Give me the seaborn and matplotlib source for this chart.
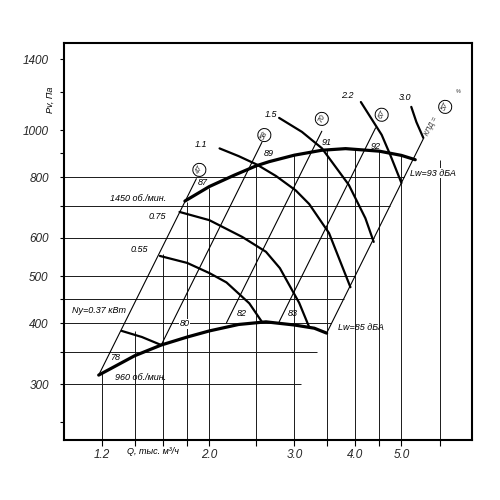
import matplotlib
matplotlib.use("Agg")
import matplotlib.pyplot as plt
import seaborn as sns
import pandas as pd
from matplotlib.ticker import FixedLocator, FixedFormatter, NullFormatter

# performance curves (Q in thousand m3/h, Pv in Pa)
q_1450 = [1.78, 2.0, 2.25, 2.5, 2.66, 3.0, 3.42, 3.83, 4.5, 5.0, 5.34]
p_1450 = [715, 766, 808, 845, 862, 889, 910, 917, 906, 888, 870]
q_960 = [1.18, 1.4, 1.59, 1.8, 2.0, 2.3, 2.62, 3.0, 3.3, 3.5]
p_960 = [313, 343, 361, 375, 386, 398, 403, 397, 391, 382]

# motor power curves, kW
power_labels = ["0.37", "0.55", "0.75", "1.1", "1.5", "2.2", "3.0"]
power_q = [[1.317, 1.45, 1.59],
           [1.58, 1.8, 2.0, 2.17, 2.42, 2.57],
           [1.735, 2.0, 2.34, 2.62, 2.8, 3.07, 3.22],
           [2.10, 2.30, 2.51, 2.75, 3.02, 3.22, 3.54, 3.92],
           [2.79, 3.11, 3.42, 3.89, 4.21, 4.38],
           [4.12, 4.55, 4.74, 5.0],
           [5.24, 5.37, 5.55]]
power_p = [[386, 375, 361],
           [551, 533, 508, 486, 440, 403],
           [679, 653, 603, 562, 520, 441, 393],
           [918, 885, 850, 805, 752, 705, 614, 475],
           [1061, 993, 919, 772, 659, 589],
           [1144, 979, 890, 779],
           [1118, 1040, 965]]

# system lines (low end on 960 rpm curve, high end above 1450 rpm curve)
ray_q0 = [1.18, 1.59, 2.17, 2.79, 3.50]
ray_p0 = [313, 361, 401, 403, 382]
ray_q1 = [1.88, 2.57, 3.42, 4.42, 5.55]
ray_p1 = [795, 945, 996, 1012, 961]
lw_low = ["78", "80", "82", "83"]
lw_low_q = [1.274, 1.776, 2.33, 2.98]
lw_low_p = [341, 399, 420, 420]
lw_high = ["87", "89", "91", "92"]
lw_high_q = [1.935, 2.66, 3.50, 4.42]
lw_high_p = [779, 894, 946, 926]
eff_text = ["47", "58", "70", "67", "57"]
eff_q = [1.907, 2.60, 3.42, 4.55, 6.16]
eff_p = [829, 978, 1056, 1077, 1118]

# partial grid
v_q = [1.2, 1.4, 1.6, 1.8, 2.0, 2.5, 3.0, 3.5, 4.0, 4.5, 5.0, 6.0]
v_top = [316, 386, 555, 713, 762, 845, 889, 913, 916, 906, 888, 868]
h_p = [300, 350, 400, 450, 500, 600, 700, 800]
h_right = [3.1, 3.35, 3.58, 3.8, 4.0, 4.39, 4.74, 5.06]

x_major = [1.2, 2.0, 3.0, 4.0, 5.0]
x_minor = [1.4, 1.6, 1.8, 2.5, 3.5, 4.5, 6.0]
y_major = [300, 400, 500, 600, 800, 1000, 1400]
y_minor = [250, 350, 450, 700, 900, 1200]

sns.set_theme(style="white")
plt.rcParams["font.family"] = ["Liberation Sans", "DejaVu Sans"]

fig = plt.figure(figsize=(5, 5), dpi=100)
ax = fig.add_axes([0.128, 0.12, 0.816, 0.794])
ax.set_xscale("log")
ax.set_yscale("log")
ax.set_xlim(1.0, 7.0)
ax.set_ylim(230, 1514)

gc = "#1a1a1a"
ax.vlines(v_q, 230, v_top, color=gc, lw=0.7)
ax.hlines(h_p, 1.0, h_right, color=gc, lw=0.7)

ray_df = pd.DataFrame({
    "Q": ray_q0 + ray_q1,
    "P": ray_p0 + ray_p1,
    "ray": list(range(5)) + list(range(5)),
})
sns.lineplot(data=ray_df, x="Q", y="P", units="ray", estimator=None,
             color="black", lw=0.8, ax=ax)

pw_df = pd.DataFrame({
    "Q": sum(power_q, []),
    "P": sum(power_p, []),
    "kW": sum([[lab] * len(q) for lab, q in zip(power_labels, power_q)], []),
})
sns.lineplot(data=pw_df, x="Q", y="P", units="kW", estimator=None,
             color="black", lw=1.6, ax=ax)

perf_df = pd.DataFrame({
    "Q": q_1450 + q_960,
    "P": p_1450 + p_960,
    "rpm": [1450] * len(q_1450) + [960] * len(q_960),
})
sns.lineplot(data=perf_df, x="Q", y="P", units="rpm", estimator=None,
             color="black", lw=2.3, ax=ax)

# labels
txt = dict(fontsize=6.5, style="italic", color="black")
for t, q, p in zip(lw_low, lw_low_q, lw_low_p):
    ax.text(q, p, t, ha="center", va="center",
            bbox=dict(fc="white", ec="none", pad=0.3) if t == "80" else None, **txt)
for t, q, p in zip(lw_high, lw_high_q, lw_high_p):
    ax.text(q, p, t, ha="center", va="center", **txt)
for t, q, p in zip(eff_text, eff_q, eff_p):
    ax.text(q, p, t, ha="center", va="center", rotation=63, fontsize=5.5,
            style="italic", bbox=dict(boxstyle="circle,pad=0.3", fc="white", ec="black", lw=0.7))

ax.text(1.63, 725, "1450 об./мин.", ha="right", va="center", **txt)
ax.text(1.274, 310, "960 об./мин.", ha="left", va="center", **txt)
ax.text(1.039, 426, "Ny=0.37 кВт", ha="left", va="center", **txt)
ax.text(1.63, 665, "0.75", ha="right", va="center", **txt)
ax.text(1.497, 567, "0.55", ha="right", va="center", **txt)
ax.text(1.98, 933, "1.1", ha="right", va="center", **txt)
ax.text(2.76, 1080, "1.5", ha="right", va="center", **txt)
ax.text(3.98, 1178, "2.2", ha="right", va="center", **txt)
ax.text(5.24, 1168, "3.0", ha="right", va="center", **txt)
ax.text(3.69, 393, "Lw=85 дБА", ha="left", va="center", **txt)
ax.text(5.22, 816, "Lw=93 дБА", ha="left", va="center",
        bbox=dict(fc="white", ec="none", pad=0.5), **txt)
ax.text(5.78, 1020, "КПД =", ha="center", va="center", rotation=63, fontsize=5,
        style="italic")
ax.text(6.55, 1200, "%", ha="center", va="center", fontsize=4, style="italic")

ax.text(-0.034, 0.856, "Pv, Па", transform=ax.transAxes, rotation=90,
        ha="center", va="center", **txt)
ax.text(0.218, -0.030, "Q, тыс. м³/ч", transform=ax.transAxes,
        ha="center", va="center", **txt)

# ticks
ax.xaxis.set_major_locator(FixedLocator(x_major))
ax.xaxis.set_major_formatter(FixedFormatter([f"{v:.1f}" for v in x_major]))
ax.xaxis.set_minor_locator(FixedLocator(x_minor))
ax.xaxis.set_minor_formatter(NullFormatter())
ax.yaxis.set_major_locator(FixedLocator(y_major))
ax.yaxis.set_major_formatter(FixedFormatter([str(v) for v in y_major]))
ax.yaxis.set_minor_locator(FixedLocator(y_minor))
ax.yaxis.set_minor_formatter(NullFormatter())
ax.tick_params(which="both", direction="out", color="black", width=0.8,
               bottom=True, left=True, labelsize=8.5)
ax.tick_params(axis="x", which="both", length=4, pad=2.5)
ax.tick_params(axis="y", which="both", length=3, pad=8)
for lab in ax.get_xticklabels() + ax.get_yticklabels():
    lab.set_fontstyle("italic")
ax.set_xlabel("")
ax.set_ylabel("")
for s in ax.spines.values():
    s.set_color("black")
    s.set_linewidth(1.5)

plt.savefig("out.png", dpi=100)
